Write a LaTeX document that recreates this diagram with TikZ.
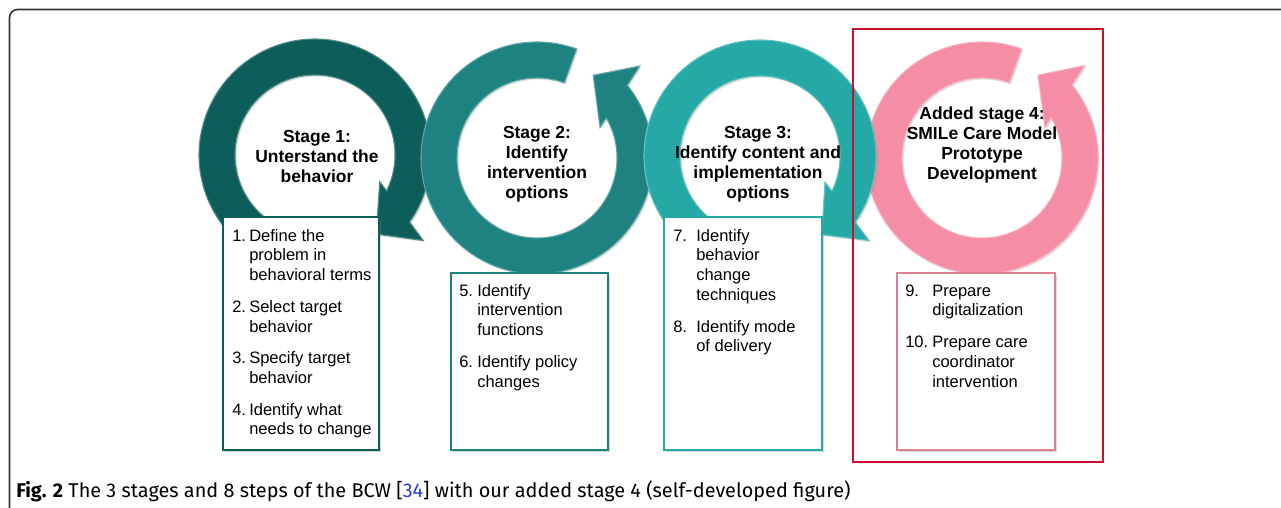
\documentclass[tikz,border=0pt]{standalone}
\usepackage{fontspec}
\setmainfont{Liberation Sans}
\newfontfamily\capfont{Fira Sans}
\usetikzlibrary{positioning,shadows}

\definecolor{stageOne}{RGB}{13,94,90}
\definecolor{stageTwo}{RGB}{30,130,128}
\definecolor{stageThree}{RGB}{37,169,167}
\definecolor{stageFour}{RGB}{245,142,164}
\definecolor{frameRed}{RGB}{200,16,46}
\definecolor{linkBlue}{RGB}{40,60,220}

% circular arrow: centre, tail angle, head angle, colour
\newcommand{\ringarrow}[4]{%
  \pgfmathsetmacro\turn{(#3>#2)?1:-1}%
  \fill[#4, draw=#4!70!white, ring, shift={#1}]
    (#2:116) arc[start angle=#2, end angle={#3+13*\turn}, radius=116]
    -- ({#3+16*\turn}:138) -- ({#3+30*\turn}:100) -- (#3:70)
    -- ({#3+4.25*\turn}:80) arc[start angle={#3+4.25*\turn}, end angle=#2, radius=80]
    -- cycle;}

% numbered steps in a box
\newcommand{\steplist}[2]{\begin{tabular}{@{}p{#1}@{}l@{}}#2\end{tabular}}

\begin{document}
\begin{tikzpicture}[x=0.75pt, y=0.75pt,
  ring/.style={line width=0.8pt, drop shadow={shadow xshift=1.2pt, shadow yshift=-1.2pt, opacity=0.25}},
  stagetitle/.style={align=center, inner sep=0, font=\bfseries\fontsize{13.1}{15}\selectfont},
  stepbox/.style={anchor=north west, fill=white, line width=1.6pt, inner sep=0,
    drop shadow={shadow xshift=1.5pt, shadow yshift=-1.5pt, opacity=0.3}},
  steptext/.style={inner sep=0, font=\fontsize{12.4}{14.8}\selectfont},
  addedframe/.style={draw=frameRed, line width=2.2pt}]
\useasboundingbox (0,0) rectangle (1281,507);

% outer frame of the figure
\draw[black!80, line width=1.2pt, rounded corners=6pt] (9.5,-10) -- (9.5,497.5) -- (1300,497.5);

% Draw the four circular arrows
\ringarrow{(982,349)}{70}{386}{stageFour}
\ringarrow{(315,352)}{250}{-22.3}{stageOne}
\ringarrow{(537,349)}{70}{385.8}{stageTwo}
\ringarrow{(760,351)}{250}{-21.8}{stageThree}

% frame round the added stage
\draw[addedframe] (853,45) rectangle (1103,478);

% Stage titles inside the rings
\node[stagetitle] (titleOne) at (317,351) {Stage 1:\\Unterstand the\\behavior};
\node[stagetitle] (titleTwo) at (537,343) {Stage 2:\\Identify\\intervention\\options};
\node[stagetitle] (titleThree) at (758,343) {Stage 3:\\Identify content and\\implementation\\options};
\node[stagetitle] (titleFour) at (982,362) {Added stage 4:\\SMILe Care Model\\Prototype\\Development};

% Boxes with the steps
\node[stepbox, draw=stageOne, minimum width=117pt, minimum height=174.75pt] (boxOne) at (222,291) {};
\node[stepbox, draw=stageTwo, minimum width=117.75pt, minimum height=132.75pt] (boxTwo) at (450,235) {};
\node[stepbox, draw=stageThree, minimum width=118.5pt, minimum height=174.75pt] (boxThree) at (663,291) {};
\node[stepbox, draw=stageFour!90!black, minimum width=118.5pt, minimum height=132.75pt] (boxFour) at (896,235) {};

\node[steptext, below right=8.25pt and 7.5pt of boxOne.north west] (listOne) {\steplist{12.75pt}{%
  1.& Define the\\ & problem in\\ & behavioral terms\\[9pt]
  2.& Select target\\ & behavior\\[9pt]
  3.& Specify target\\ & behavior\\[9pt]
  4.& Identify what\\ & needs to change}};
\node[steptext, below right=7.5pt and 6.75pt of boxTwo.north west] (listTwo) {\steplist{13.5pt}{%
  5.& Identify\\ & intervention\\ & functions\\[9pt]
  6.& Identify policy\\ & changes}};
\node[steptext, below right=8.25pt and 7.5pt of boxThree.north west] (listThree) {\steplist{17.25pt}{%
  7.& Identify\\ & behavior\\ & change\\ & techniques\\[9pt]
  8.& Identify mode\\ & of delivery}};
\node[steptext, below right=7.5pt and 6.75pt of boxFour.north west] (listFour) {\steplist{20.25pt}{%
  9.& Prepare\\ & digitalization\\[9pt]
  10.& Prepare care\\ & coordinator\\ & intervention}};

% caption
\node[anchor=base west, inner sep=0, font=\capfont\fontsize{14.9}{17}\selectfont] (caption) at (16,10)
  {\textbf{Fig. 2} The 3 stages and 8 steps of the BCW [\textcolor{linkBlue}{34}] with our added stage 4 (self-developed figure)};

\end{tikzpicture}
\end{document}
